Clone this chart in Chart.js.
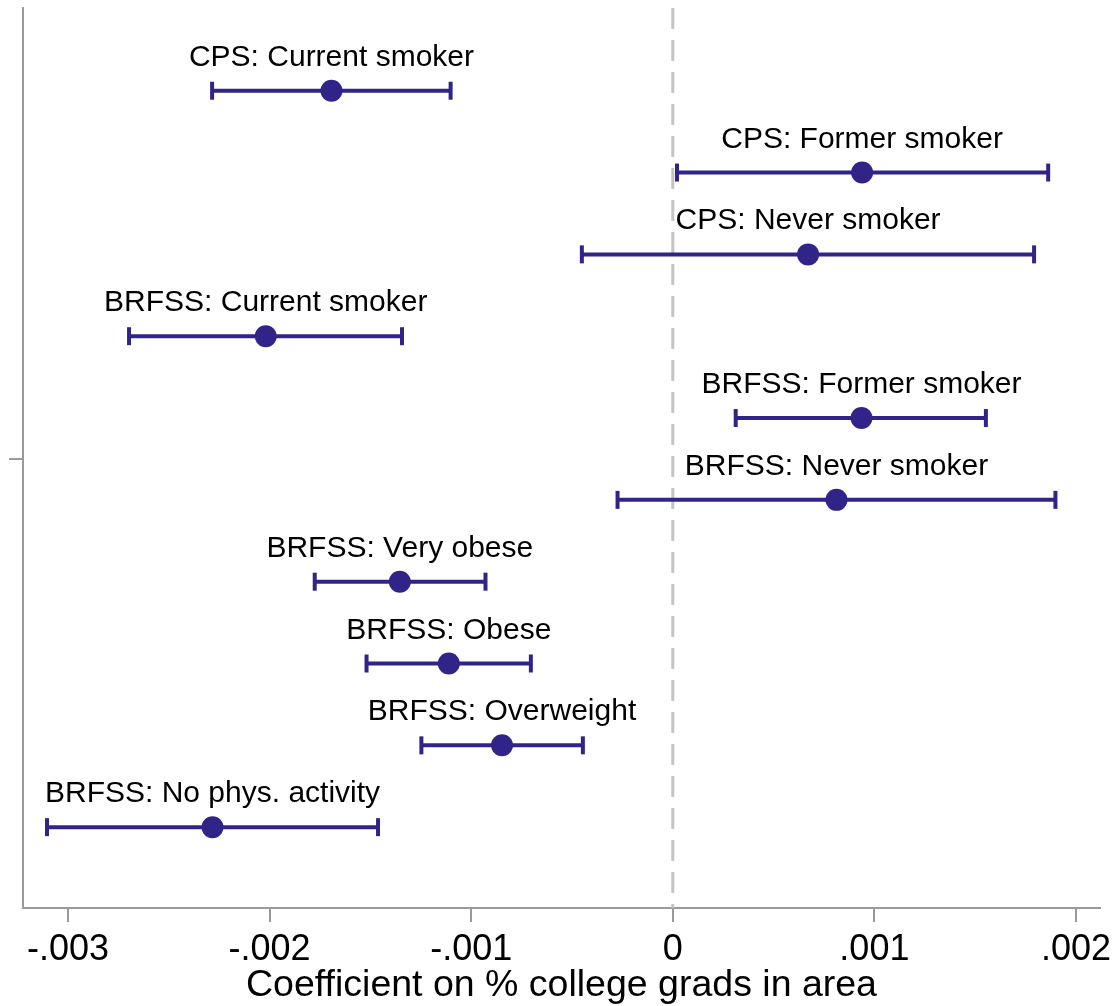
<!DOCTYPE html>
<html>
<head>
<meta charset="utf-8">
<script src="https://cdn.jsdelivr.net/npm/chart.js@4/dist/chart.umd.min.js"></script>
<style>
  html, body { margin: 0; padding: 0; background: #ffffff; }
  #wrap { width: 1119px; height: 1006px; position: relative; }
</style>
</head>
<body>
<div id="wrap"><canvas id="chart"></canvas></div>
<script>
// Outcome labels, top to bottom
const outcomes = [
  'CPS: Current smoker',
  'CPS: Former smoker',
  'CPS: Never smoker',
  'BRFSS: Current smoker',
  'BRFSS: Former smoker',
  'BRFSS: Never smoker',
  'BRFSS: Very obese',
  'BRFSS: Obese',
  'BRFSS: Overweight',
  'BRFSS: No phys. activity'
];
// Point estimates and confidence bounds
const estimates = [-0.001693, 0.000939, 0.000671, -0.002019, 0.000936, 0.000812, -0.001354, -0.001111, -0.000847, -0.002283];
const ciLow     = [-0.002285, 0.000021, -0.000451, -0.002697, 0.000312, -0.000274, -0.001776, -0.001519, -0.001247, -0.003104];
const ciHigh    = [-0.001102, 0.001862, 0.001792, -0.001343, 0.001553, 0.001898, -0.000929, -0.000704, -0.000446, -0.001462];
// Axis ticks
const xTickValues = [-0.003, -0.002, -0.001, 0, 0.001, 0.002];
const xTickLabels = ['-.003', '-.002', '-.001', '0', '.001', '.002'];
const yTickValues = [5.5];
const xTitle = 'Coefficient on % college grads in area';

const FONT = "'Liberation Sans', Arial, sans-serif";
const MARK = '#312488';
const AXIS = '#9a9a9a';

const rowOf = i => i + 1;

const datasets = [];
// zero reference line
datasets.push({
  type: 'line',
  data: [{ x: 0, y: -0.011 }, { x: 0, y: 10.988 }],
  borderColor: '#c4c4c4',
  borderWidth: 3,
  borderDash: [21, 11],
  pointRadius: 0,
  order: 3
});
// confidence intervals with end caps
outcomes.forEach((name, i) => {
  datasets.push({
    type: 'line',
    data: [{ x: ciLow[i], y: rowOf(i) }, { x: ciHigh[i], y: rowOf(i) }],
    borderColor: MARK,
    borderWidth: 4,
    pointStyle: 'line',
    rotation: 90,
    pointRadius: 9,
    pointBorderWidth: 4,
    pointBorderColor: MARK,
    order: 2
  });
});
// point estimates
datasets.push({
  type: 'scatter',
  data: estimates.map((v, i) => ({ x: v, y: rowOf(i) })),
  backgroundColor: MARK,
  borderColor: MARK,
  pointRadius: 11,
  borderWidth: 0,
  order: 1
});

const labelPlugin = {
  id: 'outcomeLabels',
  afterDatasetsDraw(chart) {
    const { ctx, scales } = chart;
    ctx.save();
    ctx.font = '30px ' + FONT;
    ctx.fillStyle = '#000000';
    ctx.textAlign = 'center';
    ctx.textBaseline = 'alphabetic';
    outcomes.forEach((name, i) => {
      const px = scales.x.getPixelForValue(estimates[i]);
      const py = scales.y.getPixelForValue(rowOf(i));
      ctx.fillText(name, px, py - 25);
    });
    ctx.restore();
  }
};

new Chart(document.getElementById('chart'), {
  type: 'scatter',
  data: { datasets },
  plugins: [labelPlugin],
  options: {
    responsive: true,
    maintainAspectRatio: false,
    animation: false,
    events: [],
    layout: { autoPadding: false, padding: { top: 8, right: 19, bottom: 0, left: 0 } },
    plugins: { legend: { display: false }, tooltip: { enabled: false } },
    scales: {
      x: {
        type: 'linear',
        min: -0.003223,
        max: 0.002119,
        afterBuildTicks: s => { s.ticks = xTickValues.map(v => ({ value: v })); },
        afterFit: s => { s.height = 98; },
        ticks: {
          autoSkip: false,
          maxRotation: 0,
          padding: 6,
          color: '#000000',
          font: { family: FONT, size: 36 },
          callback: (v, i) => xTickLabels[i]
        },
        grid: { drawOnChartArea: false, drawTicks: true, tickLength: 14, color: AXIS, lineWidth: 2 },
        border: { display: true, color: AXIS, width: 2 },
        title: {
          display: true,
          text: xTitle,
          color: '#000000',
          font: { family: FONT, size: 37.5 },
          padding: { top: 0, bottom: -2 }
        }
      },
      y: {
        type: 'linear',
        reverse: true,
        min: -0.011,
        max: 10.988,
        afterBuildTicks: s => { s.ticks = yTickValues.map(v => ({ value: v })); },
        afterFit: s => { s.width = 23; s.paddingTop = 0; s.paddingBottom = 0; },
        ticks: { display: false, padding: 0 },
        grid: { drawOnChartArea: false, drawTicks: true, tickLength: 14, color: AXIS, lineWidth: 2 },
        border: { display: true, color: AXIS, width: 2 }
      }
    }
  }
});
</script>
</body>
</html>
